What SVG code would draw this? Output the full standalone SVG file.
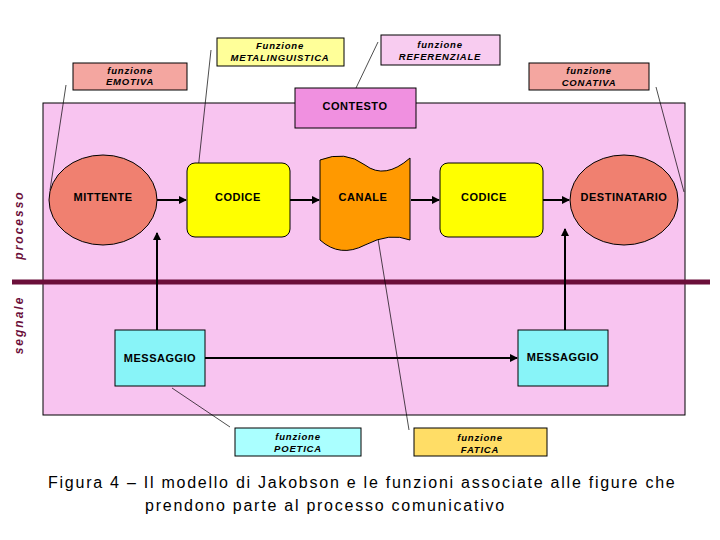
<svg xmlns="http://www.w3.org/2000/svg" width="720" height="540" viewBox="0 0 720 540">
<style>
.b{stroke:#000;stroke-width:1}
.t{font-family:"Liberation Sans",Arial,sans-serif;font-weight:bold;font-size:11px;text-anchor:middle;letter-spacing:0.5px}
.f{font-family:"Liberation Sans",Arial,sans-serif;font-weight:bold;font-style:italic;font-size:9.5px;text-anchor:middle;letter-spacing:0.8px}
.l{stroke:#000;stroke-width:0.7;fill:none}
.a{stroke:#000;stroke-width:2;fill:none;marker-end:url(#ar)}
.s{font-family:"Liberation Sans",Arial,sans-serif;font-weight:bold;font-style:italic;font-size:12px;fill:#6b0f3a;letter-spacing:2px;text-anchor:middle}
.c{font-family:"Liberation Sans",Arial,sans-serif;font-size:16px;letter-spacing:1.75px}
</style>
<defs><marker id="ar" markerWidth="8" markerHeight="8" refX="7" refY="4" orient="auto" markerUnits="userSpaceOnUse"><path d="M0,0L8,4L0,8z"/></marker></defs>
<rect width="720" height="540" fill="#fff"/>
<rect x="43" y="103" width="642" height="312" fill="#f8c4f0" class="b"/>
<line x1="12" y1="282" x2="710" y2="282" stroke="#6b0f3a" stroke-width="5"/>
<text class="s" transform="translate(23,225) rotate(-90)">processo</text>
<text class="s" transform="translate(23,325) rotate(-90)">segnale</text>
<g id="connectors">
<path class="a" d="M157,200H186"/>
<path class="a" d="M290,200H319"/>
<path class="a" d="M411,200H439"/>
<path class="a" d="M543,200H569"/>
<path class="a" d="M157,330V233"/>
<path class="a" d="M565,330V229"/>
<path class="a" d="M205,358H517"/>
<path class="l" d="M66,85L50,190M211,50L198,170M378,42L356,88M656,87L684,192M172,388L230,427M374,214L409,430"/>
</g>
<g id="emotiva"><rect x="73" y="63" width="114" height="27" fill="#f4a6a0" class="b"/><text class="f" x="130" y="74">funzione</text><text class="f" x="130" y="85">EMOTIVA</text></g>
<g id="metalinguistica"><rect x="217" y="38" width="127" height="28" fill="#ffff99" class="b"/><text class="f" x="280" y="49">Funzione</text><text class="f" x="280" y="61">METALINGUISTICA</text></g>
<g id="referenziale"><rect x="381" y="35" width="119" height="30" fill="#f8ccf0" class="b"/><text class="f" x="440" y="48">funzione</text><text class="f" x="440" y="60">REFERENZIALE</text></g>
<g id="conativa"><rect x="529" y="63" width="120" height="27" fill="#f4a6a0" class="b"/><text class="f" x="589" y="74">funzione</text><text class="f" x="589" y="86">CONATIVA</text></g>
<g id="contesto"><rect x="295" y="88" width="121" height="40" fill="#f090e0" class="b"/><text class="t" x="355" y="110">CONTESTO</text></g>
<g id="mittente"><ellipse cx="103" cy="200" rx="54" ry="45" fill="#f08070" class="b"/><text class="t" x="103" y="201">MITTENTE</text></g>
<g id="codice1"><rect x="187" y="163" width="103" height="74" rx="8" fill="#ffff00" class="b"/><text class="t" x="238" y="201">CODICE</text></g>
<g id="canale"><path d="M320,160Q345,150 365,165T410,158V240Q390,232 365,245T320,240Z" fill="#ff9900" class="b"/><text class="t" x="363" y="201">CANALE</text></g>
<g id="codice2"><rect x="440" y="163" width="103" height="74" rx="8" fill="#ffff00" class="b"/><text class="t" x="484" y="201">CODICE</text></g>
<g id="destinatario"><ellipse cx="624" cy="200" rx="54" ry="45" fill="#f08070" class="b"/><text class="t" x="624" y="201">DESTINATARIO</text></g>
<g id="messaggio1"><rect x="115" y="330" width="90" height="56" fill="#88f4f8" class="b"/><text class="t" x="160" y="362">MESSAGGIO</text></g>
<g id="messaggio2"><rect x="518" y="330" width="90" height="56" fill="#88f4f8" class="b"/><text class="t" x="563" y="361">MESSAGGIO</text></g>
<g id="poetica"><rect x="235" y="428" width="126" height="28" fill="#aaffff" class="b"/><text class="f" x="298" y="440">funzione</text><text class="f" x="298" y="452">POETICA</text></g>
<g id="fatica"><rect x="414" y="428" width="133" height="28" fill="#ffdd66" class="b"/><text class="f" x="480" y="441">funzione</text><text class="f" x="480" y="453">FATICA</text></g>
<text class="c" x="48" y="488">Figura 4 – Il modello di Jakobson e le funzioni associate alle figure che</text>
<text class="c" x="145" y="511">prendono  parte al processo comunicativo</text>
</svg>
